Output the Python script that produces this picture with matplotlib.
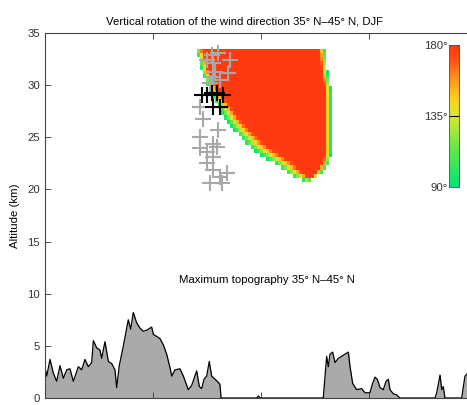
import numpy as np
import matplotlib
matplotlib.use("Agg")
import matplotlib.pyplot as plt
from matplotlib.colors import LinearSegmentedColormap

plt.rcParams['font.family'] = ['Liberation Sans', 'DejaVu Sans']

# topography (longitude deg from left edge, max altitude km)
topo_lon = [0, 1.4, 4.2, 6.9, 9.7, 12.5, 15.3, 18.1, 20.8, 23.6, 27.8, 30.6, 33.3, 36.1,
            38.9, 40.3, 43.1, 45.8, 47.2, 50, 52.8, 55.6, 58.3, 59.7, 61.9, 65.3, 69.4,
            71.4, 73.6, 76.4, 79.2, 81.9, 84.7, 88.9, 90.3, 93.1, 95.8, 98.6, 101.4,
            104.2, 105.6, 108.3, 112.5, 115.3, 119.4, 122.2, 126.4, 128.6, 130.6, 132.5,
            134.7, 136.9, 138.9, 141.7, 144.4, 145.8, 146.7, 176.4, 177.8, 179.2, 231.9,
            234.7, 236.1, 237.5, 239.7, 241.7, 244.4, 247.2, 250, 252.8, 254.2, 256.4,
            259.7, 263.9, 266.7, 270.8, 273, 275, 276.9, 279.2, 281.9, 284.2, 286.1,
            287.5, 290.3, 293.1, 295.8, 325, 326.4, 329.2, 330.6, 331.9, 333.3, 347.2,
            350, 351.7, 355, 360]
topo_alt = [2.9, 2.1, 3.7, 2.4, 1.6, 3.1, 1.9, 2.7, 2.8, 1.6, 3.0, 2.7, 3.7, 3.0,
            3.4, 5.5, 4.8, 4.6, 3.8, 5.4, 3.5, 3.3, 2.7, 1.0, 3.1, 5.0, 7.5,
            6.6, 8.2, 7.2, 6.7, 6.4, 6.5, 6.8, 6.1, 5.9, 5.7, 5.1, 4.2,
            2.9, 2.1, 2.7, 2.8, 2.1, 0.8, 1.2, 2.6, 1.1, 0.9, 1.8,
            2.1, 3.5, 2.1, 1.8, 1.5, 1.3, 0, 0, 0.2, 0, 0,
            4.0, 3.0, 4.2, 4.4, 3.4, 3.8, 4.0, 4.2, 4.4, 3.0, 1.4,
            0.8, 0.9, 0.5, 0.5, 1.4, 2.0, 1.8, 1.0, 0.8, 1.6, 1.8,
            0.8, 0.4, 0.3, 0, 0, 0.5, 2.2, 0.8, 1.1, 0, 0,
            2.1, 2.3, 3.0, 2.5]

# edges of the rotation region
edge_alt = [33.65, 31.4, 29.5, 28.3, 27.1, 25.7, 24.4, 23.5, 22.5, 21.4, 20.7]
edge_left = [125, 130, 136, 143, 148, 157, 167, 177, 190, 204, 218]
edge_right = [233, 235, 238, 238, 238, 238, 238, 238, 236, 229, 218]
band_left = [5, 6, 7, 9, 11, 13, 15, 16, 16, 13, 7]
band_right = [5, 5, 5, 5, 5, 5, 5, 5, 5, 5, 5]

# hodograph crosses
gray_lon = [139, 144, 154, 135, 140, 152.5, 142, 140, 146, 137.5, 129, 132, 129, 144,
            140, 143, 129, 135, 140, 135, 140, 152, 137.5, 147.5, 146]
gray_alt = [32.9, 33.1, 32.4, 32.4, 32.1, 31.2, 31.3, 30.8, 30.5, 30.2, 27.9, 26.8, 25.0,
            25.7, 24.4, 24.1, 24.0, 23.6, 23.1, 22.5, 21.9, 21.6, 20.6, 20.6, 21.2]
black_lon = [131, 135, 139, 143, 148, 140, 146]
black_alt = [29.1, 29.1, 29.2, 29.2, 29.1, 27.9, 27.9]

cmap = LinearSegmentedColormap.from_list("rot", [
    (0.0, "#00e676"), (0.25, "#5ce84a"), (0.5, "#d6e832"), (0.62, "#ffd21e"),
    (0.78, "#ff8c1e"), (0.9, "#ff5014"), (1.0, "#ff3a10")])

fs = 8.2
fig = plt.figure(figsize=(4.67, 4.05), dpi=100)
ax = fig.add_axes([45 / 467, 7 / 405, 432 / 467, 365 / 405])

# field on a coarse grid
lon = np.arange(100, 260, 2.5)
alt = np.arange(20.5, 33.8, 0.4)
LON, ALT = np.meshgrid(lon, alt)
ea = edge_alt[::-1]
L = np.interp(ALT, ea, edge_left[::-1])
R = np.interp(ALT, ea, edge_right[::-1])
BL = np.interp(ALT, ea, band_left[::-1])
BR = np.interp(ALT, ea, band_right[::-1])
frac = np.minimum((LON - L) / BL, (R - LON) / BR)
val = 90 + 90 * np.clip(frac, 0, 1)
val = np.ma.masked_where((LON < L) | (LON > R) | (ALT < edge_alt[-1]) | (ALT > edge_alt[0]), val)
ax.pcolormesh(LON, ALT, val, cmap=cmap, vmin=90, vmax=180, shading="nearest")

ax.plot(gray_lon, gray_alt, "+", color="#a8a8a8", ms=11, mew=1.5)
ax.plot(black_lon, black_alt, "+", color="black", ms=11, mew=1.5)

ax.fill_between(topo_lon, topo_alt, 0, color="#aaaaaa", lw=0)
ax.plot(topo_lon, topo_alt, color="black", lw=0.9)

ax.set_xlim(0, 360)
ax.set_ylim(0, 35)
ax.set_xticks([0, 90, 180, 270, 360])
ax.set_xticklabels([])
ax.set_yticks(range(0, 36, 5))
ax.tick_params(direction="in", top=True, length=4, labelsize=fs, colors="#333333", width=0.6)
for s in ax.spines.values():
    s.set_color("#444444")
    s.set_linewidth(0.8)
ax.set_ylabel("Altitude (km)", fontsize=fs, labelpad=5)

ax.text(185, 10.8, "Maximum topography 35° N–45° N", fontsize=fs, ha="center", va="bottom")
fig.text(245 / 467, 1 - 22 / 405, "Vertical rotation of the wind direction 35° N–45° N, DJF",
         fontsize=fs, ha="center", va="center")

# colorbar
cax = fig.add_axes([449 / 467, 1 - 187 / 405, 10 / 467, 142 / 405])
grad = np.linspace(90, 180, 200).reshape(-1, 1)
cax.imshow(grad, cmap=cmap, vmin=90, vmax=180, aspect="auto", origin="lower",
           extent=[0, 1, 90, 180])
cax.axhline(135, color="black", lw=0.8)
cax.set_xticks([])
cax.set_yticks([90, 135, 180])
cax.set_yticklabels(["90°", "135°", "180°"])
cax.tick_params(length=0, labelsize=fs, pad=1, colors="#333333")
for s in cax.spines.values():
    s.set_color("#555555")
    s.set_linewidth(0.6)

fig.savefig("out.png", dpi=100)
